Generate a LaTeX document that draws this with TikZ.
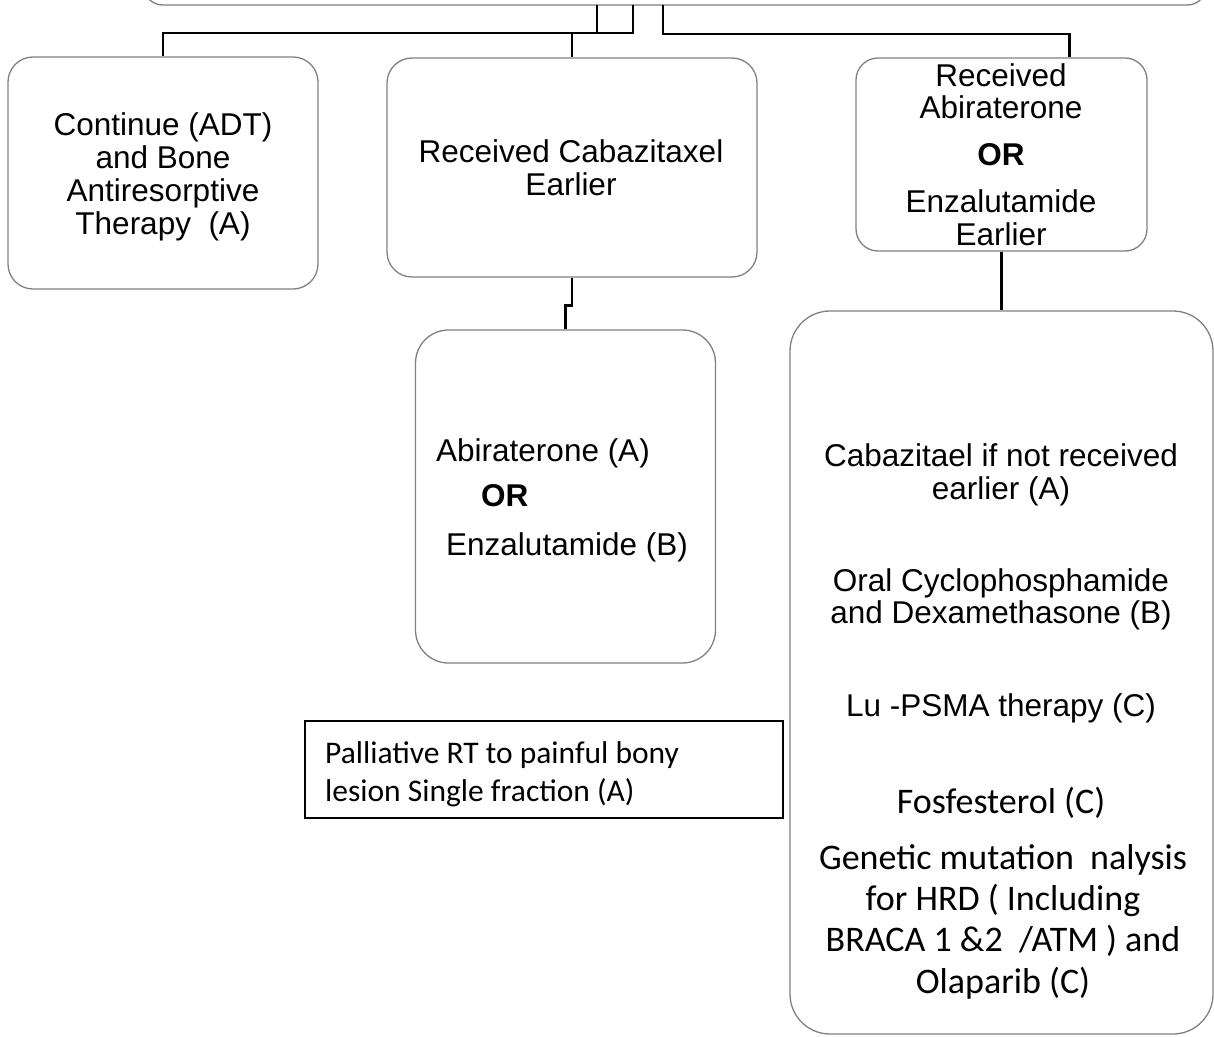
\documentclass[tikz,border=0pt]{standalone}
\usepackage{fontspec}
\setmainfont{Liberation Sans}
\newfontfamily\calibri{Carlito}
\usetikzlibrary{calc}
\definecolor{boxgray}{RGB}{128,128,128}
\begin{document}
\begin{tikzpicture}[x=1pt,y=-1pt,
  rbox/.style={draw=boxgray, line width=1.3pt, rounded corners=#1, inner sep=0pt, minimum width=0pt, minimum height=0pt},
  rbox/.default=25pt,
  conn/.style={line width=2.6pt, black},
  ar/.style={font=\fontsize{31.5}{34.3}\selectfont, inner sep=0pt, align=center, anchor=base},
  cal/.style={font=\calibri\fontsize{36}{41.3}\selectfont, inner sep=0pt, align=center, anchor=base}
]
\useasboundingbox (0,0) rectangle (1214,1036);
\clip (0,0) rectangle (1214,1036);

% boxes
\node[rbox=20pt, minimum width=1064pt, minimum height=70pt] (top) at (675,-30) {};
\node[rbox, minimum width=310pt, minimum height=232pt] (left) at (163,173) {};
\node[rbox, minimum width=370pt, minimum height=219pt] (mid) at (572,167.5) {};
\node[rbox=22pt, minimum width=291pt, minimum height=193pt] (right) at (1001.5,154.5) {};
\node[rbox=33pt, minimum width=300pt, minimum height=333pt] (lowmid) at (565.5,496.5) {};
\node[rbox=40pt, minimum width=423pt, minimum height=723pt] (lowright) at (1001.5,672.5) {};
\node[draw=black, line width=1.4pt, inner sep=0pt, minimum width=478pt, minimum height=97pt] (pall) at (544,769.5) {};

% texts (base anchor = baseline of last line)
\node[ar, font=\fontsize{31.5}{33}\selectfont] (tleft) at (163,234) {Continue (ADT)\\and Bone\\Antiresorptive\\Therapy\ \ (A)};
\node[ar, font=\fontsize{31.5}{33}\selectfont] (tmid) at (571,195) {Received Cabazitaxel\\Earlier};
\node[ar, font=\fontsize{31.5}{32.5}\selectfont] (tright) at (1001,245) {Received\\Abiraterone\\[14.5pt]\textbf{OR}\\[14.5pt]Enzalutamide\\Earlier};
\node[ar, align=left, anchor=base west] (tlowmid) at (436,555) {Abiraterone (A)\\[11pt]\hspace*{45pt}\textbf{OR}\\[14pt]\hspace*{10pt}Enzalutamide (B)};
\node[ar, font=\fontsize{31.5}{33}\selectfont] (r1) at (1001,499) {Cabazitael if not received\\earlier (A)};
\node[ar, font=\fontsize{31.5}{32}\selectfont] (r2) at (1001,623) {Oral Cyclophosphamide\\and Dexamethasone (B)};
\node[ar] (r3) at (1001,716) {Lu -PSMA therapy (C)};
\node[cal] (r4) at (1001,813) {Fosfesterol (C)};
\node[cal] (r5) at (1003,993) {Genetic mutation\ \ nalysis\\for HRD ( Including\\BRACA 1 \&2 \ /ATM ) and\\Olaparib (C)};
\node[font=\calibri\fontsize{31.5}{38}\selectfont, inner sep=0pt, align=left, anchor=base west] (tpall) at (325,801) {Palliative RT to painful bony\\lesion Single fraction (A)};

% connectors
\coordinate (t1) at (597,5);
\coordinate (t2) at (633,5);
\coordinate (t3) at (663,5);
\coordinate (rtop) at ($(right.north west)+(214,0)$);
\draw[conn] (t1) -- ++(0,28) -| (left.north);
\draw[conn] (t2) -- ++(0,28) -| (mid.north);
\draw[conn] (t3) -- ++(0,29) -| (rtop);
\draw[conn] (mid.south) -- ++(0,28) -| (lowmid.north);
\draw[conn] (right.south) -- (lowright.north);
\end{tikzpicture}
\end{document}
